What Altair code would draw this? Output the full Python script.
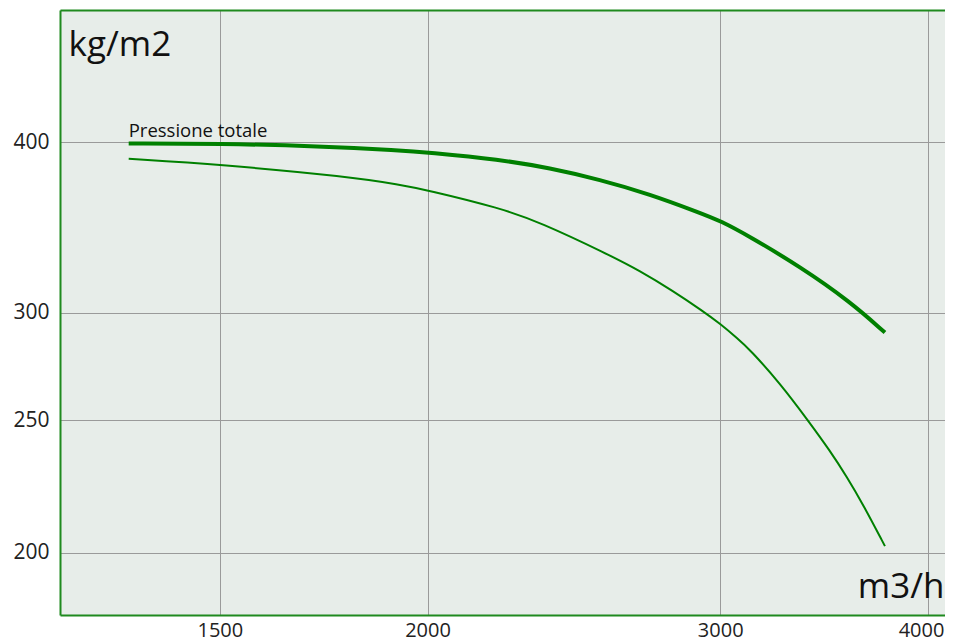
import altair as alt
import pandas as pd

# Total pressure curve (thick)
flow_total = [1322, 1500, 1723, 1924, 2000, 2211, 2369, 2539, 2721, 2917, 3000, 3126, 3350, 3591, 3769]
press_total = [399.1, 399.0, 397.3, 394.5, 393.1, 388.4, 382.9, 375.5, 366.4, 355.0, 350.3, 341.0, 324.2, 305.6, 290.0]

# Second curve (thin)
flow_static = [1322, 1500, 1796, 1924, 2000, 2211, 2337, 2564, 2685, 2809, 2929, 3000, 3070, 3126,
               3259, 3388, 3493, 3576, 3656, 3769]
press_static = [388.9, 385.2, 377.3, 372.3, 368.9, 357.9, 349.4, 331.3, 321.8, 311.2, 300.7, 294.3, 287.4,
                281.8, 266.2, 250.0, 237.5, 227.2, 217.0, 202.2]

x_ticks = [1500, 2000, 3000, 4000]
y_ticks = [200, 250, 300, 400]
x_domain = [1202, 4096]
y_domain = [180, 500]
curve_label = "Pressione totale"
x_title = "m3/h"
y_title = "kg/m2"

GREEN = "#008000"
BORDER = "#1f8a1f"
FONT = "Open Sans"

df_total = pd.DataFrame({"q": flow_total, "p": press_total})
df_static = pd.DataFrame({"q": flow_static, "p": press_static})
df_label = pd.DataFrame({"q": [flow_total[0]], "p": [press_total[0]], "t": [curve_label]})

xs = alt.Scale(type="log", domain=x_domain, nice=False)
ys = alt.Scale(type="log", domain=y_domain, nice=False)

bottom_axis = alt.Axis(
    orient="bottom", values=x_ticks, format="d", grid=True, gridColor="#9a9a9a", gridWidth=1,
    ticks=False, tickSize=0, labelPadding=5, labelFontSize=20, labelFlush=20, labelFlushOffset=16,
    domainColor=BORDER, domainWidth=2,
    title=x_title, titleFontSize=35, titleFont=FONT, titleFontWeight="normal", titleColor="#111",
    titleAlign="right", titleBaseline="alphabetic", titleX=884, titleY=-18,
)
top_axis = alt.Axis(
    orient="top", labels=False, ticks=False, tickSize=0, grid=False,
    domainColor=BORDER, domainWidth=2, title=None,
)
left_axis = alt.Axis(
    orient="left", values=y_ticks, format="d", grid=True, gridColor="#9a9a9a", gridWidth=1,
    ticks=False, tickSize=0, labelPadding=11, labelFontSize=21, domainColor=BORDER, domainWidth=2,
    title=y_title, titleFontSize=35, titleFont=FONT, titleFontWeight="normal", titleColor="#111",
    titleAngle=0, titleAlign="left", titleBaseline="alphabetic", titleX=8, titleY=45,
)

thick = alt.Chart(df_total).mark_line(
    color=GREEN, strokeWidth=4, interpolate="basis"
).encode(
    x=alt.X("q:Q", scale=xs, axis=bottom_axis),
    y=alt.Y("p:Q", scale=ys, axis=left_axis),
)

thin = alt.Chart(df_static).mark_line(
    color=GREEN, strokeWidth=2, interpolate="basis"
).encode(
    x=alt.X("q:Q", scale=xs, axis=top_axis),
    y=alt.Y("p:Q", scale=ys, axis=left_axis),
)

label = alt.Chart(df_label).mark_text(
    align="left", baseline="alphabetic", dy=-6, fontSize=18.5, font=FONT, color="#111"
).encode(
    x=alt.X("q:Q", scale=xs, axis=None),
    y=alt.Y("p:Q", scale=ys, axis=left_axis),
    text="t:N",
)

chart = alt.layer(thick, thin, label).resolve_axis(x="independent").properties(
    width=885,
    height=605,
    autosize=alt.AutoSizeParams(type="none"),
    padding={"left": 52, "top": 2, "right": 0, "bottom": 28},
).configure_view(
    fill="#e7ede9", stroke=None
).configure_axis(
    labelFont=FONT, labelColor="#222",
)

chart.save("out.html", embed_options={"renderer": "svg", "actions": False})
